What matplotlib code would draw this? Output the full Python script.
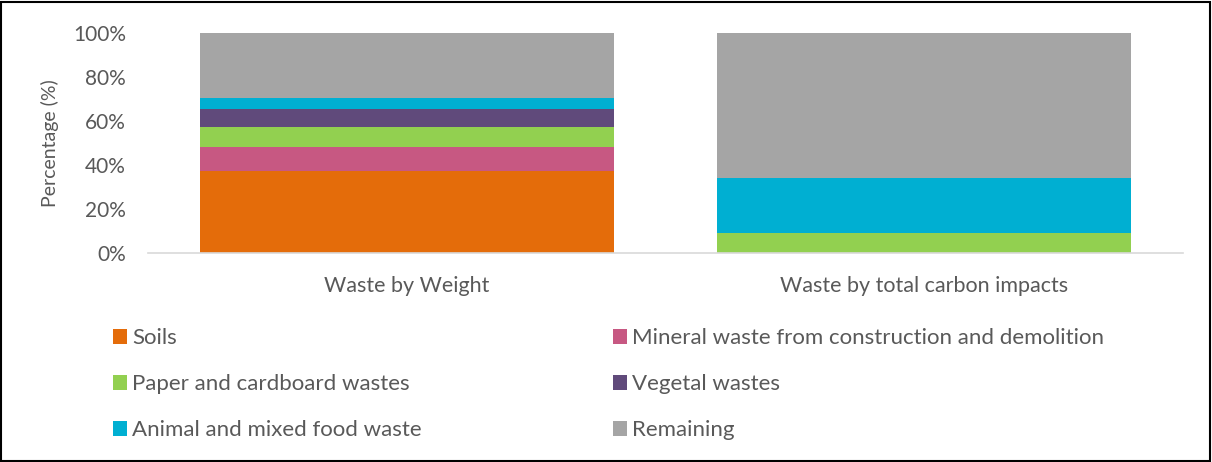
import matplotlib
matplotlib.use("Agg")
import matplotlib.pyplot as plt
from matplotlib.patches import Rectangle
from matplotlib.ticker import FuncFormatter

categories = ["Waste by Weight", "Waste by total carbon impacts"]
series_names = ["Soils", "Mineral waste from construction and demolition",
                "Paper and cardboard wastes", "Vegetal wastes",
                "Animal and mixed food waste", "Remaining"]
soils = [37.2, 0.0]
mineral = [11.1, 0.0]
paper = [9.1, 9.3]
vegetal = [7.9, 0.0]
animal = [5.1, 24.8]
remaining = [29.6, 65.9]
colors = ["#E46C0A", "#C75882", "#92D050", "#604A7B", "#00AFD2", "#A5A5A5"]

plt.rcParams['font.family'] = ['Lato', 'DejaVu Sans']
TXT = "#595959"

fig = plt.figure(figsize=(12.12, 4.62), dpi=100)
W, H = 1212, 462
ax = fig.add_axes([148 / W, 1 - 253.3 / H, (1183 - 148) / W, (253.3 - 32.7) / H])

series = [soils, mineral, paper, vegetal, animal, remaining]
x = list(range(len(categories)))
bottom = [0.0] * len(categories)
handles = []
for name, vals, c in zip(series_names, series, colors):
    b = ax.bar(x, vals, 0.8, bottom=bottom, color=c, label=name, linewidth=0)
    handles.append(b)
    bottom = [bo + v for bo, v in zip(bottom, vals)]

ax.set_xlim(-0.5, 1.5)
ax.set_ylim(0, 100)
ax.set_yticks([0, 20, 40, 60, 80, 100])
ax.yaxis.set_major_formatter(FuncFormatter(lambda v, p: f"{int(v)}%"))
ax.set_xticks(x)
ax.set_xticklabels(categories)
for s in ["top", "right", "left"]:
    ax.spines[s].set_visible(False)
ax.spines["bottom"].set_color("#D9D9D9")
ax.spines["bottom"].set_linewidth(1.2)
ax.tick_params(axis="both", length=0, colors=TXT)
ax.tick_params(axis="x", pad=16, labelsize=15.5)
ax.tick_params(axis="y", pad=16, labelsize=15)
ax.set_ylabel("Percentage (%)", fontsize=14, color=TXT, labelpad=10)

# legend: two columns of three entries, row-major order as in reference
col1 = [handles[0], handles[2], handles[4]]
col2 = [handles[1], handles[3], handles[5]]
common = dict(frameon=False, fontsize=16, labelcolor=TXT, loc="upper left",
              handlelength=0.63, handleheight=0.63, handletextpad=0.23,
              labelspacing=1.17, borderpad=0, borderaxespad=0)
fig.legend(col1, [h.get_label() for h in col1],
           bbox_to_anchor=(113 / W, 1 - 328.5 / H), **common)
fig.legend(col2, [h.get_label() for h in col2],
           bbox_to_anchor=(613 / W, 1 - 328.5 / H), **common)

# outer frame
fig.patches.append(Rectangle((1 / W, 1 / H), 1 - 3 / W, 1 - 3 / H, transform=fig.transFigure,
                             fill=False, edgecolor="black", linewidth=1.5))

fig.savefig("out.png", dpi=100)
